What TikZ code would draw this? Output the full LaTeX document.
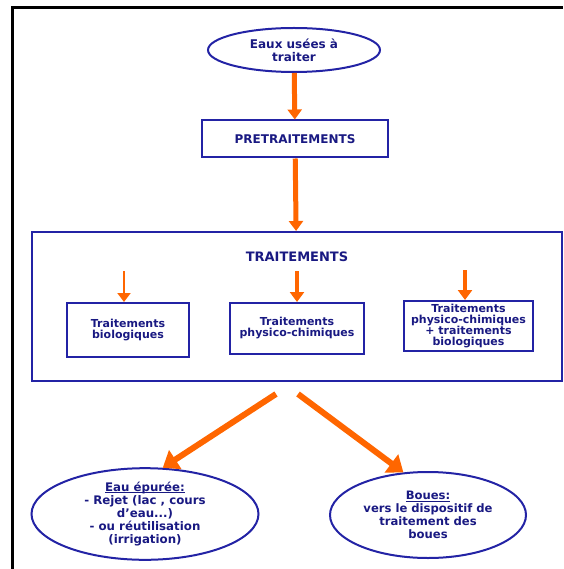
\documentclass[tikz,border=0pt]{standalone}
\usepackage{fontspec}
\setmainfont{DejaVu Sans}
\usetikzlibrary{shapes.geometric,arrows.meta}
\definecolor{bordblue}{RGB}{35,35,165}
\definecolor{txtblue}{RGB}{25,25,130}
\definecolor{flecheorange}{RGB}{255,102,0}
\newcommand{\souligne}[1]{\setbox0\hbox{#1}\rlap{\rule[-2pt]{\wd0}{1pt}}\box0}

\begin{document}
\begin{tikzpicture}[x=1pt,y=-1pt,
    every node/.style={font=\bfseries\fontsize{11}{11}\selectfont, text=txtblue, align=center, inner sep=0pt},
    box/.style={rectangle, draw=bordblue, line width=2pt},
    oval/.style={ellipse, draw=bordblue, line width=2pt},
    flow/.style={-{Triangle[width=14pt,length=10pt]}, draw=flecheorange, line width=5pt},
    thinflow/.style={-{Triangle[width=13pt,length=9pt]}, draw=flecheorange, line width=2pt},
    bigflow/.style={-{Triangle[width=22pt,length=15pt]}, draw=flecheorange, line width=6pt}]
    \useasboundingbox (0,0) rectangle (563,569);
    \draw[line width=3pt] (12.5,569) -- (12.5,7.5) -- (563,7.5);

    \node (eaux) [oval, minimum width=172pt, minimum height=44pt, font=\bfseries\fontsize{12}{13}\selectfont] at (294,50) {Eaux usées à\\traiter};
    \node (pre) [box, minimum width=186pt, minimum height=37pt, font=\bfseries\fontsize{12}{13}\selectfont] at (295,139) {PRETRAITEMENTS};
    \node (trait) [box, minimum width=530pt, minimum height=149pt] at (297,306.5) {};
    \node (traitlbl) [font=\bfseries\fontsize{13}{14}\selectfont] at (297,257) {TRAITEMENTS};
    \node (bio) [box, minimum width=122pt, minimum height=54pt] at (128,330) {Traitements\\biologiques};
    \node (phys) [box, minimum width=134pt, minimum height=51pt] at (297,328.5) {Traitements\\physico-chimiques};
    \node (mixte) [box, minimum width=129pt, minimum height=50pt] at (468.5,326) {Traitements\\physico-chimiques\\+ traitements\\biologiques};
    \node (epure) [oval, minimum width=227pt, minimum height=88pt, font=\bfseries\fontsize{11.8}{13.2}\selectfont] at (145,514) {\souligne{Eau épurée:}\\- Rejet (lac , cours\\d'eau...)\\- ou réutilisation\\(irrigation)};
    \node (boues) [oval, minimum width=196pt, minimum height=86pt, font=\bfseries\fontsize{11.6}{13}\selectfont] at (428,515) {\souligne{Boues:}\\vers le dispositif de\\traitement des\\boues};

    \coordinate (a1) at (124,271);
    \coordinate (a2) at (297,271);
    \coordinate (a3) at (465,270);
    \coordinate (d1) at (276,394);
    \coordinate (d2) at (298,394);

    \path (eaux) edge[flow] (pre)
          (pre) edge[flow] (trait)
          (a1) edge[thinflow] (bio.north -| a1)
          (a2) edge[flow, line width=4pt] (phys.north -| a2)
          (a3) edge[flow, line width=4pt] (mixte.north -| a3)
          (d1) edge[bigflow] (epure.69)
          (d2) edge[bigflow] (boues.120);
\end{tikzpicture}
\end{document}
